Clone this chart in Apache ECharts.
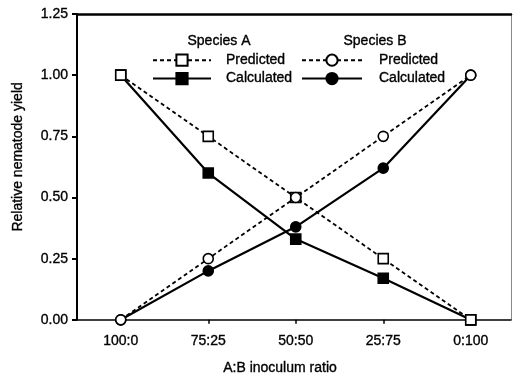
<!DOCTYPE html>
<html>
<head>
<meta charset="utf-8">
<script src="https://cdn.jsdelivr.net/npm/echarts@6/dist/echarts.min.js"></script>
<style>
  html, body { margin: 0; padding: 0; background: #fff; }
  #chart { width: 513px; height: 380px; }
</style>
</head>
<body>
<div id="chart"></div>
<script>
const ratios = ['100:0', '75:25', '50:50', '25:75', '0:100']
const predictedA = [1.0, 0.75, 0.5, 0.25, 0.0]
const calculatedA = [1.0, 0.60, 0.33, 0.17, 0.0]
const predictedB = [0.0, 0.25, 0.5, 0.75, 1.0]
const calculatedB = [0.0, 0.20, 0.38, 0.62, 1.0]

const FONT = '"Liberation Sans", Arial, Helvetica, sans-serif'
const idx = ratios.map((_, i) => i)
const pts = (arr) => arr.map((v, i) => [i, v])

function line(name, data, symbol, filled, dashed) {
  return {
    name, type: 'line', data: pts(data),
    symbol, symbolSize: 10,
    lineStyle: { color: '#000', width: dashed ? 1.8 : 2.2, type: dashed ? [4, 3] : 'solid' },
    itemStyle: { color: filled ? '#000' : '#fff', borderColor: '#000', borderWidth: 1.6 },
    emphasis: { disabled: true },
    z: filled ? 3 : 4,
  }
}

// scanned figure text looks a bit heavy, thicken slightly
const txt = { color: '#000', fontSize: 14, fontFamily: FONT, textBorderColor: '#000', textBorderWidth: 0.35 }
const legendBase = {
  orient: 'vertical', top: 48, itemHeight: 14, itemGap: 4,
  selectedMode: false,
  formatter: (n) => n.split(' ')[0],
}

const chart = echarts.init(document.getElementById('chart'))
chart.setOption({
  animation: false,
  backgroundColor: '#fff',
  textStyle: { fontFamily: FONT },
  title: [
    { text: 'Species A', left: 214, top: 29, textAlign: 'center',
      textStyle: Object.assign({ fontWeight: 'normal' }, txt) },
    { text: 'Species B', left: 370, top: 29, textAlign: 'center',
      textStyle: Object.assign({ fontWeight: 'normal' }, txt) },
  ],
  legend: [
    Object.assign({ left: 147, itemWidth: 58, data: ['Predicted A', 'Calculated A'],
      textStyle: Object.assign({ padding: [0, 0, 0, 10] }, txt) }, legendBase),
    Object.assign({ left: 296, itemWidth: 60, data: ['Predicted B', 'Calculated B'],
      textStyle: Object.assign({ padding: [0, 0, 0, 12] }, txt) }, legendBase),
  ],
  grid: { left: 77, right: 2, top: 14, bottom: 58 },
  xAxis: [
    {
      type: 'value', min: -0.5, max: 4.46,
      name: 'A:B inoculum ratio', nameLocation: 'middle', nameGap: 41,
      nameTextStyle: Object.assign({ padding: [0, 28, 0, 0] }, txt),
      axisLine: { onZero: false, lineStyle: { color: '#000', width: 1.5 } },
      axisTick: { customValues: idx, length: 4, lineStyle: { color: '#000', width: 1.5 } },
      axisLabel: Object.assign({ customValues: idx, formatter: (v) => ratios[v] ?? '', margin: 14 }, txt),
      splitLine: { show: false },
    },
    {
      type: 'value', position: 'top', min: -0.5, max: 4.46,
      axisLine: { show: true, onZero: false, lineStyle: { color: '#000', width: 2.5 } },
      axisTick: { show: false }, axisLabel: { show: false }, splitLine: { show: false },
    },
  ],
  yAxis: [
    {
      type: 'value', min: 0, max: 1.25, interval: 0.25,
      name: 'Relative nematode yield', nameLocation: 'middle', nameGap: 52,
      nameTextStyle: Object.assign({ padding: [0, 0, 0, 20] }, txt),
      axisLine: { show: true, onZero: false, lineStyle: { color: '#000', width: 2 } },
      axisTick: { show: true, length: 5, lineStyle: { color: '#000', width: 2 } },
      axisLabel: Object.assign({ formatter: (v) => v.toFixed(2), margin: 9 }, txt),
      splitLine: { show: false },
    },
    {
      type: 'value', position: 'right', min: 0, max: 1.25, interval: 0.25,
      axisLine: { show: true, onZero: false, lineStyle: { color: '#888', width: 1 } },
      axisTick: { show: false }, axisLabel: { show: false }, splitLine: { show: false },
    },
  ],
  series: [
    line('Predicted A', predictedA, 'rect', false, true),
    line('Calculated A', calculatedA, 'rect', true, false),
    line('Predicted B', predictedB, 'circle', false, true),
    line('Calculated B', calculatedB, 'circle', true, false),
  ],
})
</script>
</body>
</html>
